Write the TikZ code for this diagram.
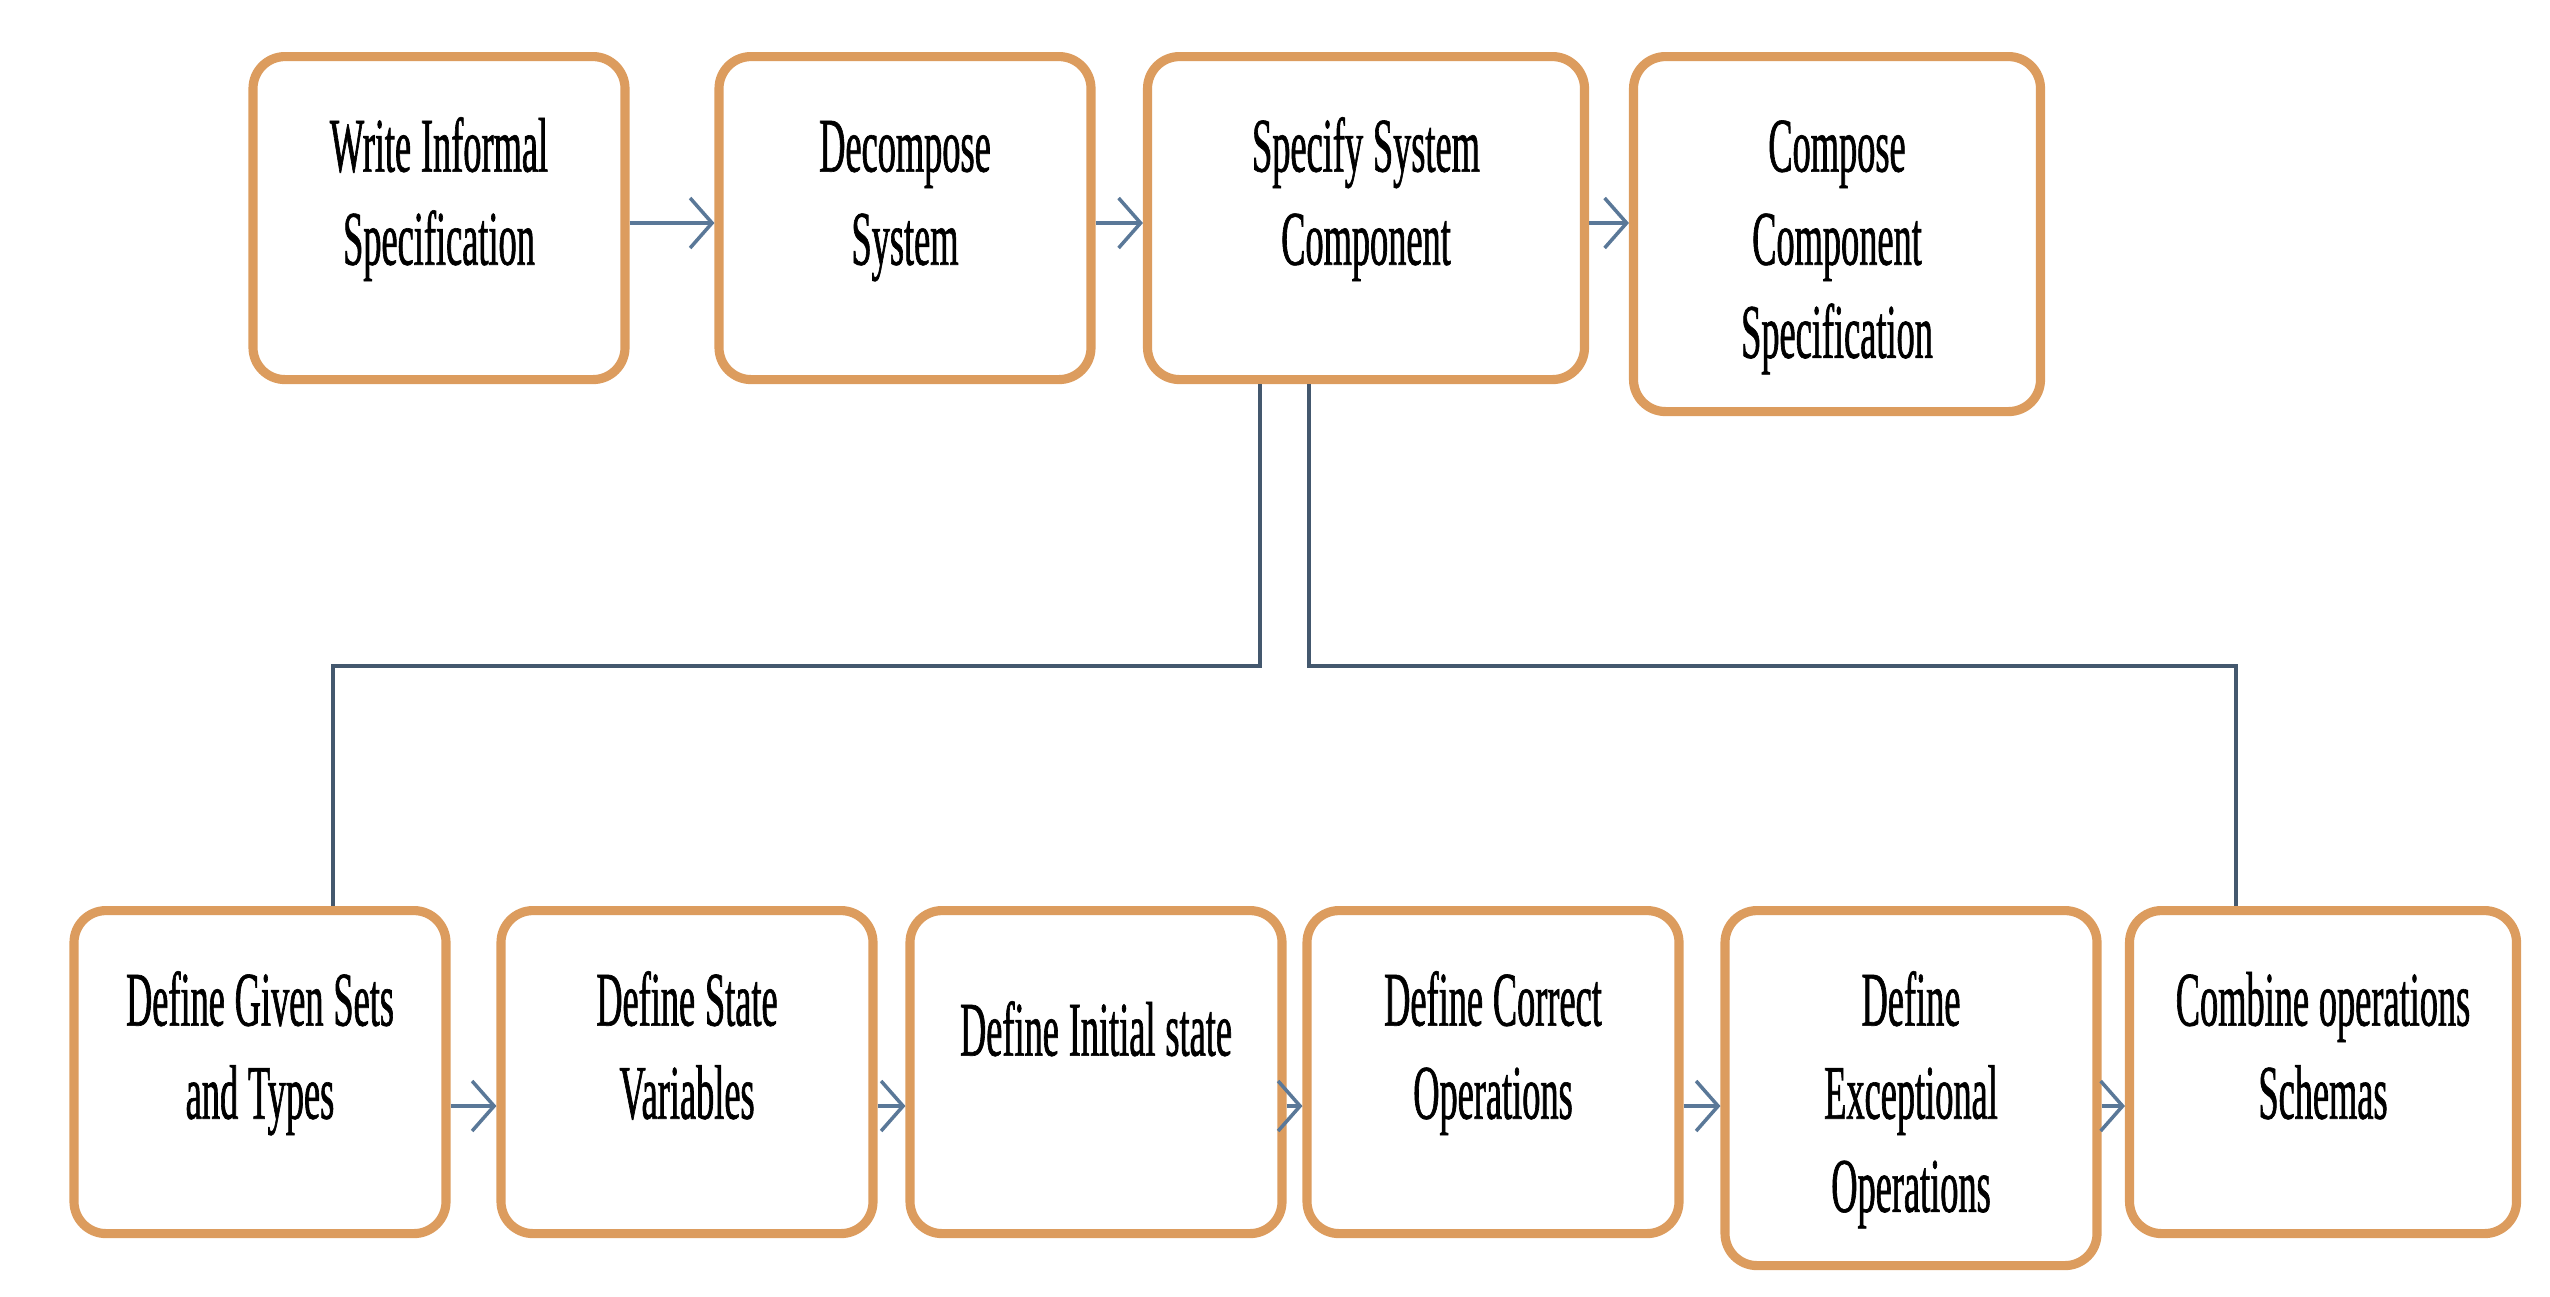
\documentclass[tikz,border=0pt]{standalone}
\usepackage{fontspec}
\usetikzlibrary{arrows.meta}
\newfontfamily\stepfont[FakeStretch=0.47, FakeBold=0.8]{Liberation Serif}
\newcommand{\stepsize}{\fontsize{22}{26.5}\selectfont\spaceskip=2.8pt plus 1pt\relax}
\definecolor{boxorange}{HTML}{DC9C5E}
\definecolor{flowblue}{HTML}{5A7898}
\definecolor{linkgrey}{HTML}{44586E}

\begin{document}
\begin{tikzpicture}[
    stepbox/.style={draw=boxorange, line width=2.6pt, fill=white, rounded corners=0.32cm,
      anchor=north, inner sep=0pt, minimum width=3.72cm, text width=3.5cm, align=flush center,
      text height=1.15cm, text depth=2.08cm, font=\stepfont\stepsize},
    tallbox/.style={stepbox, text depth=2.4cm},
    flow/.style={draw=flowblue, line width=1pt, -{Straight Barb[length=0.22cm,width=0.5cm]}},
    link/.style={draw=linkgrey, line width=1pt}]
        \useasboundingbox (0,0) rectangle (25.5,-12.96);
        % top row
        \node[stepbox] (s1) at (4.39,-0.52) {Write Informal\\Specification};
        \node[stepbox] (s2) at (9.05,-0.52) {Decompose\\System};
        \node[stepbox, minimum width=4.37cm] (s3) at (13.66,-0.52) {Specify System\\Component};
        \node[tallbox, minimum width=4.07cm] (s4) at (18.37,-0.52) {Compose\\Component\\Specification};
        % bottom row
        \node[stepbox] (d1) at (2.60,-9.06) {Define Given Sets\\and Types};
        \node[stepbox] (d2) at (6.87,-9.06) {Define State\\Variables};
        \node[stepbox, text height=1.45cm, text depth=1.78cm] (d3) at (10.96,-9.06) {Define Initial state};
        \node[stepbox] (d4) at (14.93,-9.06) {Define Correct\\Operations};
        \node[tallbox] (d5) at (19.11,-9.06) {Define\\Exceptional\\Operations};
        \node[stepbox, minimum width=3.87cm] (d6) at (23.23,-9.06) {Combine operations\\Schemas};
        \coordinate (toprow) at (0,-2.23);
        \coordinate (botrow) at (0,-11.06);
        \draw[flow] (s1.east |- toprow) -- (s2.west |- toprow);
        \draw[flow] (s2.east |- toprow) -- (s3.west |- toprow);
        \draw[flow] (s3.east |- toprow) -- (s4.west |- toprow);
        \draw[flow] (d1.east |- botrow) -- (d2.west |- botrow);
        \draw[flow] (d2.east |- botrow) -- (d3.west |- botrow);
        \draw[flow] (d3.east |- botrow) -- (d4.west |- botrow);
        \draw[flow] (d4.east |- botrow) -- (d5.west |- botrow);
        \draw[flow] (d5.east |- botrow) -- (d6.west |- botrow);
        % branches down from the component step
        \draw[link] ([xshift=-1.06cm]s3.south) -- ++(0,-2.82) -| ([xshift=0.73cm]d1.north);
        \draw[link] ([xshift=-0.57cm]s3.south) -- ++(0,-2.82) -| ([xshift=-0.87cm]d6.north);
\end{tikzpicture}
\end{document}
